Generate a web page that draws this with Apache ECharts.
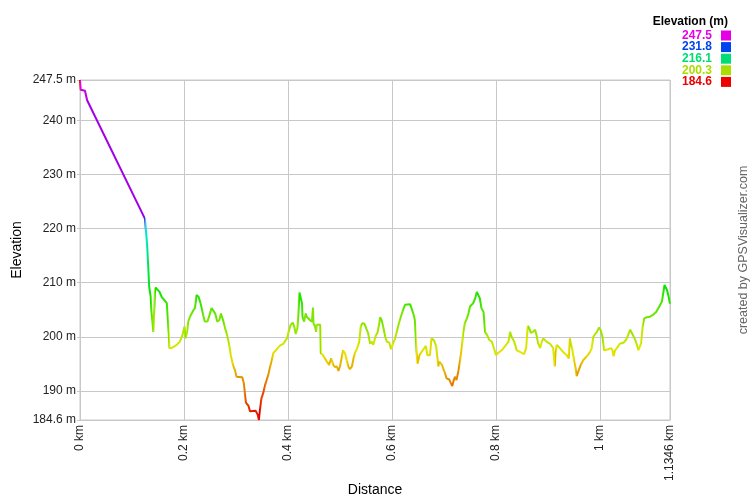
<!DOCTYPE html>
<html>
<head>
<meta charset="utf-8">
<script src="https://cdn.jsdelivr.net/npm/echarts@6/dist/echarts.min.js"></script>
<style>html,body{margin:0;padding:0;background:#fff}#chart{width:750px;height:500px}</style>
</head>
<body>
<div id="chart"></div>
<script>
const distanceKm = [0,0.0013,0.0096,0.0135,0.125,
0.127,0.129,0.131,0.131,0.133,0.133,0.135,0.136,0.137,0.139,0.141,
0.144,0.145,0.147,0.153,0.157,0.162,0.167,0.169,0.171,0.172,
0.176,0.186,0.192,0.197,0.201,0.203,0.206,0.208,0.212,0.215,0.218,0.221,0.223,0.224,0.228,0.231,0.234,0.237,0.240,0.245,0.249,0.253,0.256,0.260,0.264,0.268,0.271,0.274,0.276,0.279,0.283,0.287,0.290,0.294,0.298,0.301,0.312,0.315,0.317,0.319,0.324,0.327,0.330,0.338,0.340,0.342,0.344,0.346,0.349,0.353,0.356,0.359,0.362,0.365,0.369,0.372,0.376,0.380,0.385,
0.391,0.394,0.398,0.401,0.405,0.409,0.412,0.415,0.418,0.420,0.422,0.425,0.427,0.428,0.431,0.434,0.436,0.442,0.446,0.448,0.449,0.452,0.454,0.455,0.458,0.462,0.463,0.467,0.471,0.476,0.479,0.483,0.487,0.490,0.494,0.497,0.500,0.503,0.506,0.510,0.513,0.516,0.519,0.523,0.526,0.529,0.533,0.537,0.540,0.543,0.547,0.551,0.554,0.558,0.561,0.564,0.567,0.569,0.572,0.575,0.577,0.580,0.583,0.587,0.590,0.595,0.598,0.601,0.606,0.610,0.615,0.621,0.625,0.628,0.635,0.638,0.641,0.644,0.647,0.649,
0.651,0.653,0.657,0.662,0.665,0.668,0.673,0.676,0.681,0.685,0.687,0.689,0.691,0.694,0.696,0.699,0.702,0.705,0.710,0.713,0.716,0.718,0.721,0.724,0.728,0.731,0.734,0.737,0.740,0.744,0.747,0.750,0.756,0.760,0.763,0.766,0.769,0.772,0.776,0.779,0.783,0.787,0.792,0.795,0.800,0.804,0.811,0.817,0.824,0.827,0.830,0.835,0.840,0.846,0.854,0.858,0.861,0.864,0.867,0.871,0.875,0.878,0.881,0.885,0.888,0.891,0.897,0.904,
0.907,0.910,0.913,0.915,0.917,0.923,0.929,0.936,0.940,0.942,0.944,0.947,0.950,0.953,0.955,0.958,0.963,0.968,0.974,0.981,0.984,0.987,0.990,0.994,0.998,1.001,1.005,1.008,1.011,1.016,1.021,1.024,1.026,1.029,1.033,1.038,1.045,1.050,1.054,1.058,1.061,1.064,1.069,1.074,1.077,1.079,1.082,1.085,1.090,1.096,1.101,1.108,1.114,1.119,1.121,1.124,1.126,1.129,1.132,1.1346];
const elevationM = [247.5,245.7,245.5,243.8,221.8,
221.6,217.0,216.9,213.3,213.0,209.3,209.0,207.4,205.3,203.1,200.9,
208.0,209.1,208.9,208.3,207.4,206.8,206.2,203.1,200.0,197.9,
197.9,198.5,199.1,200.3,201.9,199.7,200.9,202.8,203.8,204.0,204.9,205.3,206.8,207.7,207.4,206.5,205.3,204.0,202.8,202.8,204.0,205.3,205.3,204.3,202.8,203.1,204.3,204.2,202.8,201.6,200.3,198.5,196.6,194.8,193.8,192.6,192.5,191.4,189.5,187.8,187.2,186.2,186.0,186.3,186.0,185.5,184.6,186.4,188.6,189.8,191.1,192.0,192.9,194.2,195.7,197.0,197.4,197.9,198.4,
198.7,198.9,199.7,200.9,202.2,202.6,201.9,200.5,201.6,204.3,208.2,207.9,206.2,203.7,202.8,204.3,203.7,203.1,202.8,205.4,202.5,201.9,200.9,202.2,202.5,202.2,197.0,196.6,196.0,195.2,194.8,196.0,194.8,194.4,194.5,193.7,194.5,196.0,197.5,196.8,195.6,194.5,194.0,194.5,196.0,197.0,197.9,199.1,202.0,202.5,202.4,201.4,200.7,198.7,199.1,198.5,198.5,200.3,200.7,202.2,203.6,203.1,201.9,200.0,199.1,198.9,197.7,198.5,199.7,201.3,203.1,204.9,205.9,206.2,206.0,205.9,204.3,203.1,197.5,195.0,
195.0,196.6,197.2,197.9,198.3,196.6,196.6,199.7,199.3,198.2,196.3,194.5,195.4,195.6,194.8,194.5,193.2,192.3,192.1,191.4,190.9,191.7,192.6,192.0,193.8,195.7,197.9,200.7,202.5,203.4,204.3,205.6,206.2,207.1,208.3,208.0,207.1,205.3,204.6,200.9,200.3,199.4,199.1,198.2,196.6,197.0,197.5,198.2,199.1,200.9,200.0,199.1,197.5,197.2,196.8,197.9,202.0,201.6,200.7,200.9,201.3,200.3,198.8,197.9,199.1,199.7,199.1,198.7,
198.5,197.9,194.5,197.2,198.5,197.9,197.2,196.6,196.0,199.7,198.8,197.5,195.7,194.2,192.7,193.5,194.8,195.7,196.3,197.2,197.9,200.0,200.3,200.9,201.7,201.3,199.9,197.5,197.4,197.7,197.9,197.5,196.4,197.5,198.0,198.7,198.9,199.4,200.3,201.3,201.1,200.2,199.1,197.5,197.4,198.8,201.9,203.4,203.6,203.7,204.0,204.6,205.6,206.5,207.7,209.6,209.9,208.6,207.4,206.1];

const xTicks = [0, 0.2, 0.4, 0.6, 0.8, 1, 1.1346];
const yTicks = [184.6, 190, 200, 210, 220, 230, 240, 247.5];
const legendValues = [247.5, 231.8, 216.1, 200.3, 184.6];
const legendColors = ['#e600e6', '#0044ee', '#00dd77', '#aadd00', '#ee0000'];

const elevMin = 184.6, elevMax = 247.5;
// Segment colour: hue runs from red (min) to magenta (max), like the legend.
function elevColor(e) {
  const t = Math.max(0, Math.min(1, (e - elevMin) / (elevMax - elevMin)));
  const h = t * 300, v = 0.9;
  const f = (n) => {
    const k = (n + h / 60) % 6;
    return v - v * Math.max(0, Math.min(k, 4 - k, 1));
  };
  const hex = (x) => Math.round(x * 255).toString(16).padStart(2, '0');
  return '#' + hex(f(5)) + hex(f(3)) + hex(f(1));
}

const chart = echarts.init(document.getElementById('chart'), null, {renderer: 'canvas'});
const data = distanceKm.map((d, i) => [d, elevationM[i]]);
const pieces = [];
for (let i = 0; i < distanceKm.length - 1; i++) {
  if (distanceKm[i + 1] > distanceKm[i]) {
    pieces.push({gte: distanceKm[i], lt: distanceKm[i + 1], color: elevColor(elevationM[i])});
  }
}
pieces.push({gte: distanceKm[distanceKm.length - 1], color: elevColor(elevationM[elevationM.length - 1])});

const font = 'Liberation Sans, Arial, sans-serif';
const gridColor = '#c8c8c8';

const graphics = [{
  type: 'text', x: 728, y: 22,
  style: {text: 'Elevation (m)', font: 'bold 12px ' + font, fill: '#000', align: 'right', verticalAlign: 'middle'}
}, {
  type: 'text', x: 744, y: 250, rotation: Math.PI / 2,
  style: {text: 'created by GPSVisualizer.com', font: '12.5px ' + font, fill: '#666', align: 'center', verticalAlign: 'middle'}
}];
legendValues.forEach((v, i) => {
  graphics.push({
    type: 'text', x: 712, y: 35.5 + i * 11.6,
    style: {text: v.toFixed(1), font: 'bold 12px ' + font, fill: legendColors[i], align: 'right', verticalAlign: 'middle'}
  });
  graphics.push({
    type: 'rect', shape: {x: 721, y: 30.5 + i * 11.6, width: 10, height: 10},
    style: {fill: legendColors[i]}
  });
});

chart.setOption({
  animation: false,
  backgroundColor: '#fff',
  grid: {left: 80, right: 80, top: 80, bottom: 80, outerBoundsMode: 'none', containLabel: false,
    show: true, borderColor: gridColor, borderWidth: 1},
  xAxis: {
    type: 'value', min: 0, max: 1.1346, interval: 0.2,
    name: 'Distance', nameLocation: 'middle', nameGap: 63, nameMoveOverlap: false,
    nameTextStyle: {fontFamily: font, fontSize: 14, color: '#000'},
    axisLine: {lineStyle: {color: gridColor}},
    axisTick: {show: false, customValues: xTicks},
    axisLabel: {customValues: xTicks, rotate: 90, fontFamily: font, fontSize: 12, color: '#222', margin: 5,
      formatter: v => v + ' km'},
    splitLine: {show: true, lineStyle: {color: gridColor}}
  },
  yAxis: {
    type: 'value', min: elevMin, max: elevMax, interval: 10,
    name: 'Elevation', nameLocation: 'middle', nameGap: 56, nameRotate: 90, nameMoveOverlap: false,
    nameTextStyle: {fontFamily: font, fontSize: 14, color: '#000'},
    axisLine: {show: true, lineStyle: {color: gridColor}},
    axisTick: {show: true, length: 3, customValues: yTicks, lineStyle: {color: gridColor}},
    axisLabel: {customValues: yTicks, fontFamily: font, fontSize: 12, color: '#222', margin: 4,
      formatter: v => v + ' m'},
    splitLine: {show: true, lineStyle: {color: gridColor}}
  },
  visualMap: {
    show: false, type: 'piecewise', dimension: 0, seriesIndex: 0,
    pieces: pieces, outOfRange: {color: elevColor(elevMin)}
  },
  series: [{
    type: 'line', data: data, showSymbol: false, symbol: 'none',
    lineStyle: {width: 2}
  }],
  graphic: graphics
});
</script>
</body>
</html>
